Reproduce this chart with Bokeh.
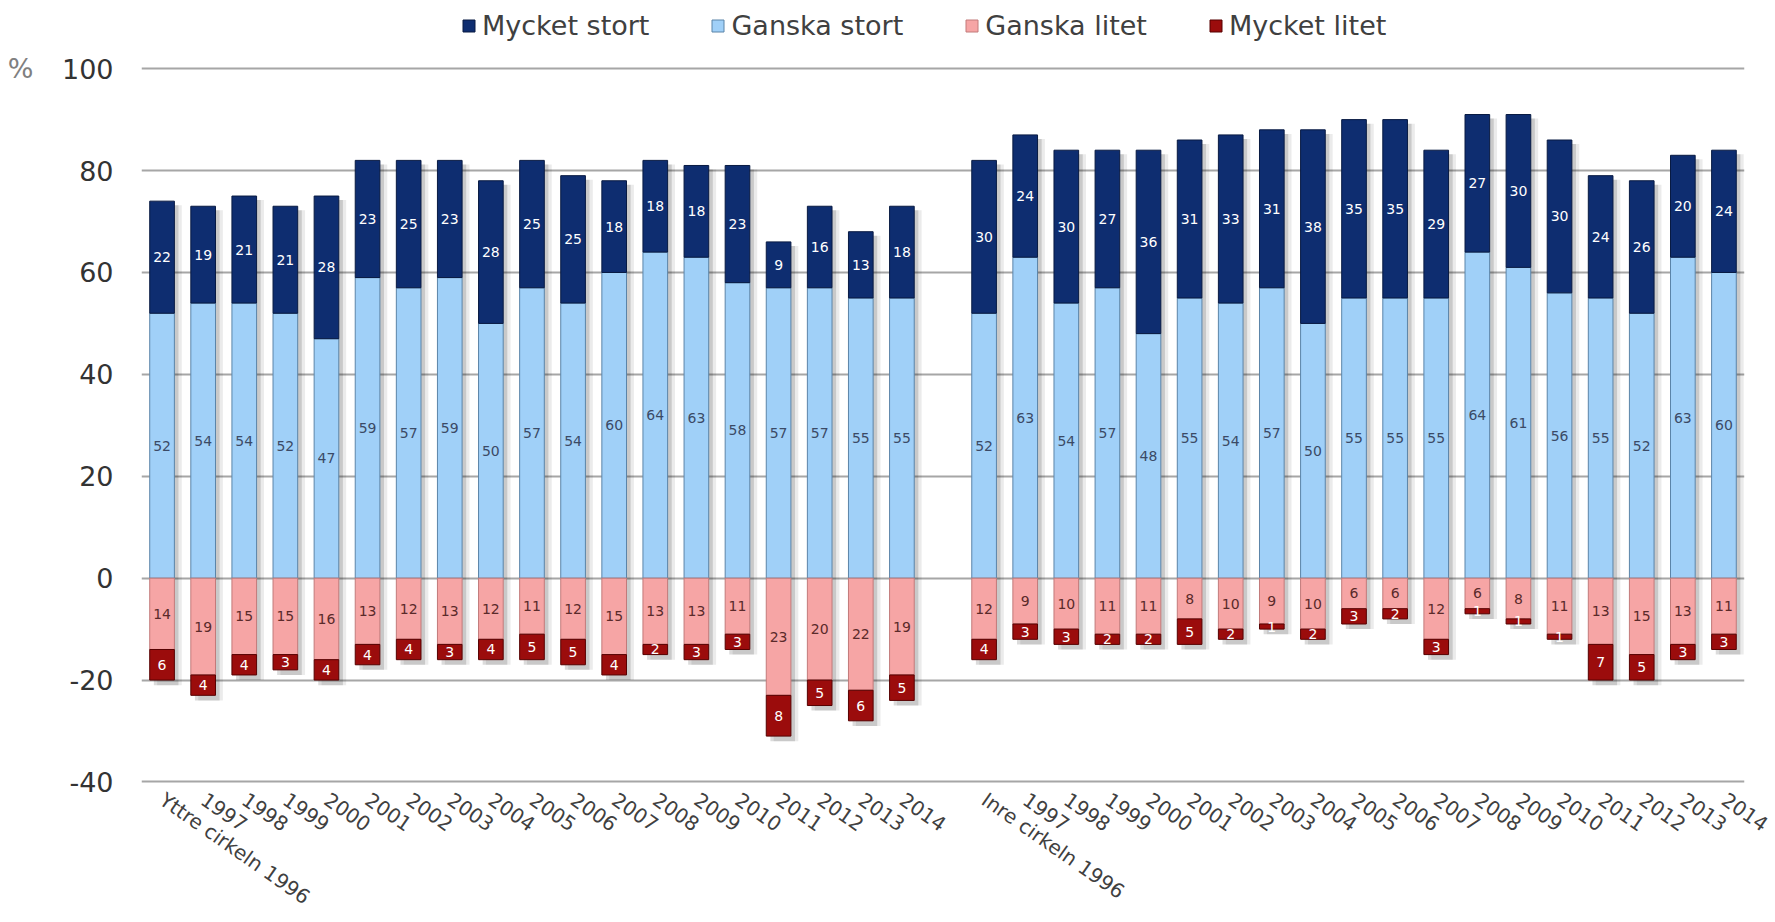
from bokeh.plotting import figure
from bokeh.models import (ColumnDataSource, Range1d, FixedTicker, Legend, LegendItem, LinearAxis)
from bokeh.transform import dodge
from bokeh.core.properties import value
from bokeh.embed import file_html
from bokeh.resources import INLINE

# ---------------- data ----------------
series_names = ["Mycket stort", "Ganska stort", "Ganska litet", "Mycket litet"]
years = ["1996", "1997", "1998", "1999", "2000", "2001", "2002", "2003", "2004", "2005",
         "2006", "2007", "2008", "2009", "2010", "2011", "2012", "2013", "2014"]
group_names = ["Yttre cirkeln", "Inre cirkeln"]

yttre_mycket_stort = [22, 19, 21, 21, 28, 23, 25, 23, 28, 25, 25, 18, 18, 18, 23, 9, 16, 13, 18]
yttre_ganska_stort = [52, 54, 54, 52, 47, 59, 57, 59, 50, 57, 54, 60, 64, 63, 58, 57, 57, 55, 55]
yttre_ganska_litet = [14, 19, 15, 15, 16, 13, 12, 13, 12, 11, 12, 15, 13, 13, 11, 23, 20, 22, 19]
yttre_mycket_litet = [6, 4, 4, 3, 4, 4, 4, 3, 4, 5, 5, 4, 2, 3, 3, 8, 5, 6, 5]

inre_mycket_stort = [30, 24, 30, 27, 36, 31, 33, 31, 38, 35, 35, 29, 27, 30, 30, 24, 26, 20, 24]
inre_ganska_stort = [52, 63, 54, 57, 48, 55, 54, 57, 50, 55, 55, 55, 64, 61, 56, 55, 52, 63, 60]
inre_ganska_litet = [12, 9, 10, 11, 11, 8, 10, 9, 10, 6, 6, 12, 6, 8, 11, 13, 15, 13, 11]
inre_mycket_litet = [4, 3, 3, 2, 2, 5, 2, 1, 2, 3, 2, 3, 1, 1, 1, 7, 5, 3, 3]

y_ticks = [-40, -20, 0, 20, 40, 60, 80, 100]
unit_label = "%"

# ---------------- build table ----------------
n = len(years)
xs = list(range(n)) + list(range(n + 1, 2 * n + 1))   # one empty slot between the groups
tick_labels = ([group_names[0] + " " + years[0]] + years[1:] +
               [group_names[1] + " " + years[0]] + years[1:])

ms = yttre_mycket_stort + inre_mycket_stort
gs = yttre_ganska_stort + inre_ganska_stort
gl = yttre_ganska_litet + inre_ganska_litet
ml = yttre_mycket_litet + inre_mycket_litet

src = ColumnDataSource(dict(
    x=xs,
    gs_top=gs,
    ms_bot=gs,
    ms_top=[a + b for a, b in zip(gs, ms)],
    gl_bot=[-a for a in gl],
    ml_top=[-a for a in gl],
    ml_bot=[-(a + b) for a, b in zip(gl, ml)],
    gs_mid=[a / 2 for a in gs],
    ms_mid=[a + b / 2 for a, b in zip(gs, ms)],
    gl_mid=[-a / 2 for a in gl],
    ml_mid=[-a - b / 2 for a, b in zip(gl, ml)],
    gs_txt=[str(v) for v in gs],
    ms_txt=[str(v) for v in ms],
    gl_txt=[str(v) for v in gl],
    ml_txt=[str(v) for v in ml],
))

FONT = "DejaVu Sans"

# y range extends above 100 to leave room for the legend inside the frame
p = figure(width=1775, height=922, output_backend="svg", toolbar_location=None,
           x_range=Range1d(-0.5, 2 * n + 0.5), y_range=Range1d(-40.5, 112.4),
           min_border_left=141, min_border_right=31, min_border_top=5, min_border_bottom=132)
p.outline_line_color = None
p.background_fill_color = "white"

W = 0.6
# soft shadows
for off, alpha in [(0.18, 0.08), (0.10, 0.14)]:
    p.vbar(x=dodge("x", off), top=dodge("ms_top", -0.8), bottom=0, width=W, source=src,
           fill_color="black", fill_alpha=alpha, line_color=None)
    p.vbar(x=dodge("x", off), top=0, bottom=dodge("ml_bot", -1.0), width=W, source=src,
           fill_color="black", fill_alpha=alpha, line_color=None)

r_gs = p.vbar(x="x", bottom=0, top="gs_top", width=W, source=src,
              fill_color="#a0d0f8", line_color="#5b84a8", line_width=1)
r_ms = p.vbar(x="x", bottom="ms_bot", top="ms_top", width=W, source=src,
              fill_color="#0e2d70", line_color="#081a42", line_width=1)
r_gl = p.vbar(x="x", bottom="gl_bot", top=0, width=W, source=src,
              fill_color="#f6a5a5", line_color="#c27a7a", line_width=1)
r_ml = p.vbar(x="x", bottom="ml_bot", top="ml_top", width=W, source=src,
              fill_color="#9b0c0c", line_color="#560000", line_width=1)

common = dict(source=src, text_align="center", text_baseline="middle",
              text_font=value(FONT), text_font_size="14px")
p.text(x="x", y="gs_mid", text="gs_txt", text_color="#3b4a66", **common)
p.text(x="x", y="ms_mid", text="ms_txt", text_color="white", **common)
p.text(x="x", y="gl_mid", text="gl_txt", text_color="#5a2a2a", **common)
p.text(x="x", y="ml_mid", text="ml_txt", text_color="white", **common)

# axes
p.xaxis.ticker = FixedTicker(ticks=xs)
p.xaxis.major_label_overrides = {x: lab for x, lab in zip(xs, tick_labels)}
p.xaxis.major_label_orientation = -0.61
p.xaxis.major_label_standoff = 13
p.xaxis.major_label_text_font = FONT
p.xaxis.major_label_text_font_size = "20px"
p.xaxis.major_label_text_color = "#404040"
p.xaxis.axis_line_color = None
p.xaxis.major_tick_line_color = None
p.xaxis.minor_tick_line_color = None
p.xaxis.major_tick_out = 0
p.xaxis.minor_tick_out = 0

p.yaxis.ticker = FixedTicker(ticks=y_ticks)
p.yaxis.major_label_overrides = {t: str(t) for t in y_ticks}
p.yaxis.major_label_standoff = 28
p.yaxis.major_label_text_font = FONT
p.yaxis.major_label_text_font_size = "27px"
p.yaxis.major_label_text_color = "#333333"
p.yaxis.axis_line_color = None
p.yaxis.major_tick_line_color = None
p.yaxis.minor_tick_line_color = None
p.yaxis.major_tick_out = 0
p.yaxis.minor_tick_out = 0

# unit marker "%" left of the 100 label (outer axis with a single tick)
unit_axis = LinearAxis(ticker=FixedTicker(ticks=[y_ticks[-1]]),
                       major_label_overrides={y_ticks[-1]: unit_label},
                       major_label_standoff=25, major_label_text_font=FONT,
                       major_label_text_font_size="27px", major_label_text_color="#808080",
                       axis_line_color=None, major_tick_line_color=None,
                       minor_tick_line_color=None, major_tick_out=0, minor_tick_out=0)
p.add_layout(unit_axis, "left")

p.xgrid.visible = False
p.ygrid.ticker = FixedTicker(ticks=y_ticks)
p.ygrid.grid_line_color = "#a6a6a6"
p.ygrid.grid_line_width = 2

legend = Legend(items=[LegendItem(label=series_names[0], renderers=[r_ms]),
                       LegendItem(label=series_names[1], renderers=[r_gs]),
                       LegendItem(label=series_names[2], renderers=[r_gl]),
                       LegendItem(label=series_names[3], renderers=[r_ml])],
                orientation="horizontal", location=(320, 743),
                label_text_font=FONT, label_text_font_size="27px", label_text_color="#404040",
                glyph_width=15, glyph_height=15, spacing=61, label_standoff=6,
                margin=0, padding=9, border_line_color=None, background_fill_alpha=0)
p.add_layout(legend, "center")

open("out.html", "w").write(file_html(p, INLINE))
